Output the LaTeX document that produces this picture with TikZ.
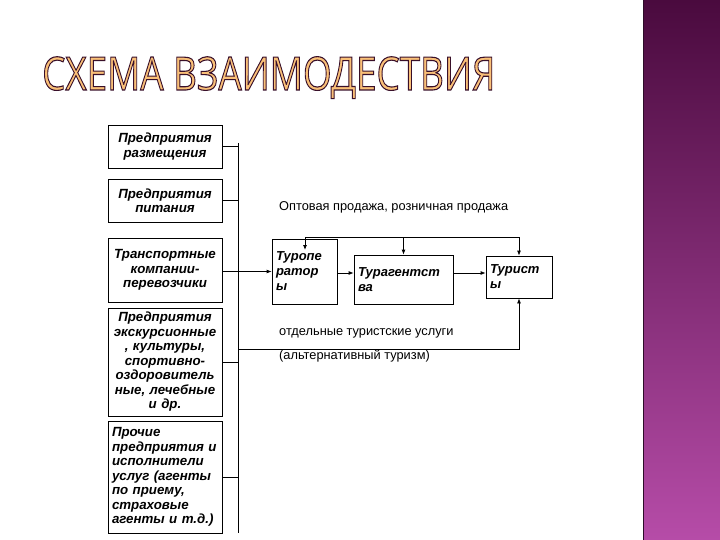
\documentclass[tikz,border=0pt]{standalone}
\usepackage{fontspec}
\setmainfont{Liberation Sans}
\newfontfamily\titlefont{Open Sans}
\usetikzlibrary{arrows.meta,positioning}
\definecolor{titlefill}{RGB}{250,192,120}
\definecolor{bandtop}{RGB}{74,10,62}
\definecolor{bandbot}{RGB}{182,76,168}
\definecolor{bandedge}{RGB}{45,12,40}
% outlined title letters (stroke + fill)
\newcommand{\outlined}[1]{\special{pdf:literal direct 2 Tr 1.1 w 0.22 0.06 0.16 RG}#1\special{pdf:literal direct 0 Tr}}

\begin{document}
\begin{tikzpicture}[x=1pt,y=-1pt,>={Latex[length=5pt,width=4pt]},
  every node/.style={inner sep=0pt},
  leftbox/.style={draw,line width=0.8pt,minimum width=114pt,text width=106pt,align=center,
    font=\bfseries\itshape\fontsize{13.3}{14.5}\selectfont},
  midbox/.style={draw,line width=0.8pt,inner sep=4pt,align=left,
    font=\bfseries\itshape\fontsize{13}{15}\selectfont},
  lbl/.style={anchor=west,font=\fontsize{12.8}{14}\selectfont},
  conn/.style={line width=0.8pt}]
  \useasboundingbox (0,0) rectangle (720,540);
  % side band
  \shade[top color=bandtop,bottom color=bandbot] (643,0) rectangle (720,540);
  \draw[bandedge,line width=1.5pt] (643.5,0) -- (643.5,540);
  % title
  \node[anchor=base west] (title) at (42,90)
    {\titlefont\fontsize{46}{46}\selectfont\color{titlefill}\scalebox{0.8}[1]{\outlined{СХЕМА ВЗАИМОДЕСТВИЯ}}};

  % enterprises
  \node[leftbox,minimum height=43pt] (razm) at (165,146.5) {Предприятия\\размещения};
  \node[leftbox,minimum height=43pt] (pit) at (165,200.5) {Предприятия\\питания};
  \node[leftbox,minimum height=64pt] (trans) at (165,270) {Транспортные\\компании-\\перевозчики};
  \node[leftbox,minimum height=108pt] (ekskurs) at (165,362) {Предприятия\\экскурсионные\\, культуры,\\спортивно-\\оздоровитель\\ные, лечебные\\и др.};
  \node[leftbox,minimum height=112pt,align=left] (proch) at (165,477) {Прочие\\предприятия и\\исполнители\\услуг (агенты\\по приему,\\страховые\\агенты и т.д.)};

  % market
  \node[midbox,minimum width=65pt,minimum height=65pt,text width=57pt] (turop) at (304.5,271.5) {Туропе\\ратор\\ы};
  \node[midbox,minimum width=99pt,minimum height=49pt,text width=91pt] (turag) at (403.5,279.5) {Турагентст\\ва};
  \node[midbox,minimum width=66pt,minimum height=42pt,text width=58pt] (tur) at (519,277) {Турист\\ы};

  \node[lbl] (opt) at (279,207) {Оптовая продажа, розничная продажа};
  \node[lbl] (otd) at (279,333) {отдельные туристские услуги};
  \node[lbl] (alt) at (279,356) {(альтернативный туризм)};

  % bus
  \coordinate (bustop) at (238,143);
  \coordinate (busbot) at (238,533);
  \coordinate (busalt) at (238,349);
  \coordinate (optl) at (305,237);
  \coordinate (midl) at (0,273);
  \draw[conn] (bustop) -- (busbot);
  \draw[conn] (razm.east) -- (razm.east -| bustop);
  \draw[conn] (pit.east) -- (pit.east -| bustop);
  \draw[conn] (ekskurs.east) -- (ekskurs.east -| bustop);
  \draw[conn] (proch.east) -- (proch.east -| bustop);
  \draw[conn,->] (trans.east |- turop.west) -- (turop.west);
  \draw[conn,->] (busalt) -- (busalt -| tur.south) -- (tur.south);

  % sales
  \draw[conn] (optl) -- (optl -| tur.north);
  \draw[conn,->] (optl) -- ++(0,13);
  \draw[conn,->] (optl -| turag.north) -- (turag.north);
  \draw[conn,->] (optl -| tur.north) -- (tur.north);
  \draw[conn,->] (turop.east |- midl) -- (turag.west |- midl);
  \draw[conn,->] (turag.east |- midl) -- (tur.west |- midl);
\end{tikzpicture}
\end{document}
